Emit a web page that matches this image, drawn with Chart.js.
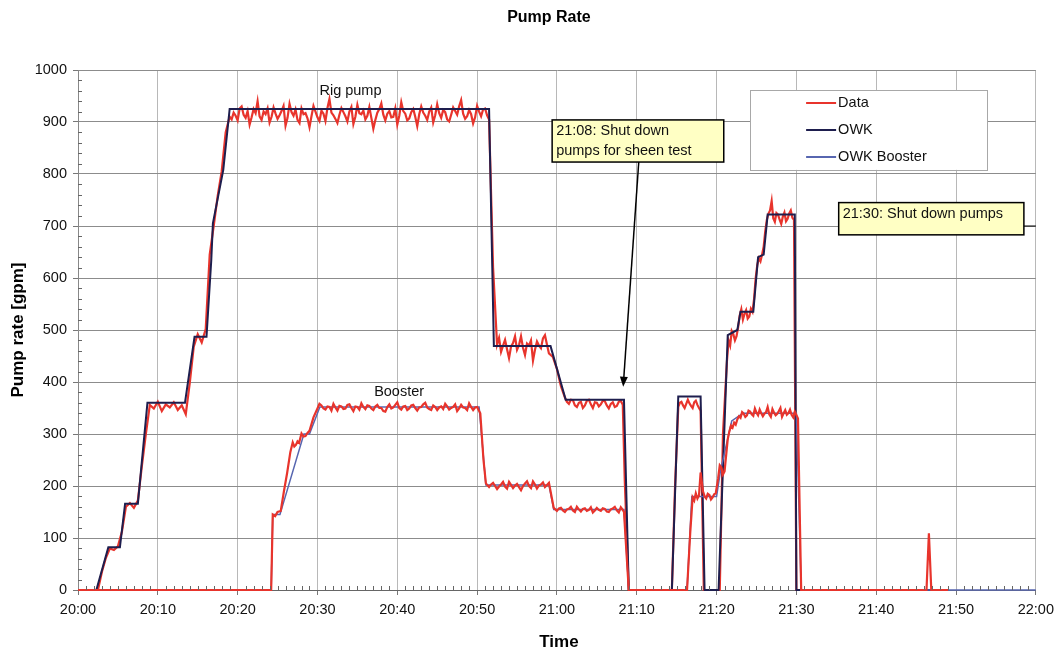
<!DOCTYPE html>
<html><head><meta charset="utf-8">
<script src="https://cdn.jsdelivr.net/npm/chart.js@4.4.0/dist/chart.umd.min.js"></script>
<style>html,body{margin:0;padding:0;background:#fff}#wrap{width:1060px;height:652px}</style>
</head><body><div id="wrap"><canvas id="c" width="1060" height="652"></canvas></div>
<script>
const chartTitle = 'Pump Rate';
const xAxisTitle = 'Time';
const yAxisTitle = 'Pump rate [gpm]';
// x values are minutes after 20:00
const timeTickLabels = ['20:00','20:10','20:20','20:30','20:40','20:50','21:00','21:10','21:20','21:30','21:40','21:50','22:00'];

// Measured rig pump rate (red "Data")
const rigPumpData = [[0,0],[2.5,0],[3,35],[3.5,62],[4,80],[4.5,77],[5,84],[5.5,112],[6,160],[6.5,167],[7,158],[7.5,172],[8,238],[8.5,300],[9,356],[9.5,349],[10,362],[10.5,344],[11,357],[11.5,351],[12,361],[12.5,346],[13,355],[13.5,338],[14,398],[14.5,468],[15,492],[15.5,476],[16,502],[16.5,645],[17,700],[17.5,758],[18,805],[18.5,880],[19,910],
[19.25,905],[19.5,918],[19.75,912],[20,903],[20.25,926],[20.5,930],[20.75,914],[21,908],[21.25,921],[21.5,895],[21.75,909],[22,925],[22.25,917],[22.5,940],[22.75,911],[23,904],[23.25,920],[23.5,915],[23.75,926],[24,899],[24.25,910],[24.5,928],[24.75,916],[25,906],[25.25,913],[25.5,921],[25.75,931],[26,893],[26.25,908],[26.5,935],[26.75,919],[27,912],[27.25,924],[27.5,904],[27.75,898],[28,926],[28.25,915],[28.5,917],[28.75,907],[29,890],[29.25,911],[29.5,931],[29.75,920],[30,909],[30.25,902],[30.5,922],[30.75,916],[31,902],[31.25,927],[31.5,944],[31.75,918],[32,913],[32.25,906],[32.5,898],[32.75,914],[33,927],[33.25,919],[33.5,911],[33.75,901],[34,920],[34.25,929],[34.5,896],[34.75,910],[35,933],[35.25,917],[35.5,915],[35.75,922],[36,905],[36.25,912],[36.5,929],[36.75,908],[37,887],[37.25,904],[37.5,918],[37.75,925],[38,936],[38.25,914],[38.5,903],[38.75,916],[39,921],[39.25,909],[39.5,910],[39.75,926],[40,895],[40.25,912],[40.5,938],[40.75,921],[41,916],[41.25,903],[41.5,907],[41.75,919],[42,925],[42.25,910],[42.5,892],[42.75,915],[43,930],[43.25,918],[43.5,912],[43.75,904],[44,920],[44.25,928],[44.5,899],[44.75,913],[45,934],[45.25,917],[45.5,908],[45.75,923],[46,919],[46.25,905],[46.5,901],[46.75,914],[47,928],[47.25,921],[47.5,914],[47.75,930],[48,942],[48.25,916],[48.5,906],[48.75,911],[49,923],[49.25,915],[49.5,897],[49.75,909],[50,931],[50.25,920],[50.5,911],[50.75,924],[51,926],[51.25,913],
[51.5,905],[52,620],[52.5,472],[52.75,485],[53,458],[53.25,470],[53.5,481],[53.75,463],[54,446],[54.25,468],[54.5,475],[54.75,488],[55,462],[55.25,471],[55.5,488],[55.75,466],[56,452],[56.25,474],[56.5,470],[56.75,480],[57,441],[57.25,462],[57.5,478],[57.75,470],[58,465],[58.25,484],[58.5,490],[58.75,472],[59,455],[59.5,448],[60,425],[60.5,392],[61,370],
[61.25,362],[61.5,358],[61.75,366],[62,365],[62.25,355],[62.5,352],[62.75,360],[63,362],[63.25,350],[63.5,355],[63.75,364],[64,366],[64.25,357],[64.5,350],[64.75,361],[65,360],[65.25,353],[65.5,357],[65.75,364],[66,363],[66.25,355],[66.5,349],[66.75,358],[67,361],[67.25,352],[67.5,354],[67.75,362],[68,364],[68.25,356],[68.5,210],[69,0],
[74.4,0],[74.8,200],[75.2,352],[75.4,360],[75.6,362],[75.8,355],[76,350],[76.2,358],[76.4,366],[76.6,359],[76.8,354],[77,350],[77.2,361],[77.4,364],[77.6,356],[77.8,350],[78,345],[78.4,0],
[80.4,0],[80.8,300],[81.3,440],[81.5,480],[81.7,470],[81.9,498],[82.1,492],[82.3,480],[82.5,488],[82.7,505],[82.9,528],[83.1,540],[83.3,520],[83.5,531],[83.7,538],[83.9,522],[84.1,526],[84.3,541],[84.5,535],[84.7,560],[84.9,600],[85.1,625],[85.3,638],[85.5,632],[85.7,645],[85.9,660],[86.1,690],[86.3,712],[86.5,724],[86.7,730],[86.9,748],[87.1,715],[87.3,708],[87.5,725],[87.7,722],[87.9,712],[88.1,704],[88.3,718],[88.5,726],[88.7,709],[88.9,714],[89.1,724],[89.3,730],[89.5,716],[89.7,712],[90,0],[109,0]];

// Measured booster pump rate (red, not in legend)
const boosterPumpData = [[0,0],[24.2,0],[24.4,145],[24.7,142],[25,150],[25.4,152],[25.8,190],[26.2,225],[26.6,265],[26.9,284],[27.1,276],[27.3,279],[27.5,286],[27.7,283],[28,301],[28.25,295],[28.5,296],[28.75,302],[29,306],[29.5,332],[30,349],[30.25,358],
[30.5,355],[30.75,349],[31,347],[31.25,353],[31.5,352],[31.75,345],[32,358],[32.25,351],[32.5,345],[32.75,354],[33,353],[33.25,348],[33.5,349],[33.75,356],[34,357],[34.25,350],[34.5,344],[34.75,353],[35,352],[35.25,347],[35.5,359],[35.75,352],[36,348],[36.25,355],[36.5,354],[36.75,349],[37,346],[37.25,353],[37.5,356],[37.75,350],[38,350],[38.25,344],[38.5,343],[38.75,352],[39,357],[39.25,349],[39.5,351],[39.75,356],[40,361],[40.25,350],[40.5,347],[40.75,353],[41,354],[41.25,346],[41.5,349],[41.75,355],[42,356],[42.25,350],[42.5,345],[42.75,351],[43,352],[43.25,357],[43.5,360],[43.75,351],[44,348],[44.25,346],[44.5,355],[44.75,352],[45,346],[45.25,351],[45.5,353],[45.75,348],[46,358],[46.25,353],[46.5,347],[46.75,350],[47,352],[47.25,357],[47.5,344],[47.75,349],[48,356],[48.25,351],[48.5,350],[48.75,346],[49,359],[49.25,352],[49.5,346],[49.75,351],[50,352],
[50.4,340],[50.8,250],[51.1,205],[51.5,198],[51.75,203],[52,206],[52.25,200],[52.5,194],[52.75,199],[53,203],[53.25,208],[53.5,199],[53.75,195],[54,208],[54.25,202],[54.5,196],[54.75,201],[55,204],[55.25,198],[55.5,192],[55.75,200],[56,205],[56.25,209],[56.5,200],[56.75,196],[57,209],[57.25,203],[57.5,195],[57.75,201],[58,203],[58.25,207],[58.5,198],[58.75,202],[59,206],[59.6,158],
[60,152],[60.25,157],[60.5,158],[60.75,153],[61,150],[61.25,155],[61.5,156],[61.75,160],[62,153],[62.25,150],[62.5,160],[62.75,155],[63,151],[63.25,156],[63.5,157],[63.75,152],[64,154],[64.25,159],[64.5,149],[64.75,153],[65,158],[65.25,154],[65.5,152],[65.75,157],[66,156],[66.25,151],[66.5,150],[66.75,155],[67,157],[67.25,160],[67.5,153],[67.75,149],[68,159],[68.25,154],[68.4,150],[69,0],
[76.3,0],[76.7,110],[77,178],[77.2,172],[77.4,186],[77.6,176],[77.8,182],[78,226],[78.3,190],[78.5,180],[78.7,176],[78.9,185],[79.1,183],[79.3,174],[79.5,178],[79.7,184],[79.9,186],[80.2,215],[80.4,240],[80.6,236],[80.8,222],[81,228],[81.4,290],[81.6,305],[81.8,316],[82,312],[82.2,322],[82.4,318],[82.6,328],[82.8,334],[83,331],[83.2,342],[83.4,339],[83.6,333],[83.8,336],[84,345],[84.2,343],[84.4,338],[84.6,335],[84.8,349],[85,341],[85.2,336],[85.4,347],[85.6,340],[85.8,334],[86,339],[86.2,342],[86.4,352],[86.6,338],[86.8,333],[87,348],[87.2,341],[87.4,336],[87.6,339],[87.8,344],[88,350],[88.2,333],[88.4,340],[88.6,346],[88.8,337],[89,340],[89.2,347],[89.4,337],[89.6,332],[89.8,343],[90.2,330],[90.6,0],
[106.3,0],[106.6,109],[106.9,0],[109,0]];

// Model lines
const owkRig = [[0,0],[2.3,0],[3.8,82],[5.25,82],[5.9,166],[7.5,166],[8.7,360],[13.4,360],[14.6,487],[16.1,487],[16.7,635],[16.9,705],[18.2,808],[19.0,925],[51.5,925],[52.1,469],[59.2,469],[61.1,366],[68.4,366],[69.0,0],[74.4,0],[75.2,372],[78.0,372],[78.5,0],[80.25,0],[81.4,490],[82.6,500],[83.0,535],[84.6,535],[85.2,640],[85.9,645],[86.4,722],[89.8,722],[90.0,0],[109,0]];
const owkBooster = [[0,0],[24.2,0],[24.4,145],[25.3,145],[28.3,300],[29.0,300],[30.3,352],[50.25,352],[51.1,202],[59.0,202],[59.6,155],[68.4,155],[69.0,0],[76.3,0],[76.9,180],[80.0,180],[80.5,230],[81.9,325],[83.3,340],[90.0,340],[90.6,0],[120,0]];

const seriesNames = ['Data','OWK','OWK Booster'];
const seriesColors = ['#e8342c','#1e1e4e','#5766b0'];

// annotations (positions in data units: minutes, gpm)
const seriesNotes = [{text:'Rig pump', t:30.25, v:960},{text:'Booster', t:37.1, v:381}];
const callouts = [
  {lines:['21:08: Shut down','pumps for sheen test'], t0:59.4, t1:80.9, v0:904, v1:823, arrow:[[70.25,823],[68.3,391]]},
  {lines:['21:30: Shut down pumps'], t0:95.3, t1:118.5, v0:745, v1:683, leader:[[118.5,700],[120,700]]}
];
const legendBox = {t0:84.2, t1:113.9, v0:961.5, v1:808};

const FONT = "'Liberation Sans', Arial, Helvetica, sans-serif";
const toXY = arr => arr.map(p => ({x:p[0], y:p[1]}));

const overlay = {
  id:'overlay',
  afterDraw(chart){
    const ctx = chart.ctx, xs = chart.scales.x, ys = chart.scales.y, a = chart.chartArea;
    const X = t => xs.getPixelForValue(t), Y = v => ys.getPixelForValue(v);
    ctx.save();
    // minor ticks
    ctx.strokeStyle = '#666'; ctx.lineWidth = 1;
    for (let v = 20; v < 1000; v += 20) {
      if (v % 100 === 0) continue;
      const y = Math.round(Y(v)) + 0.5;
      ctx.beginPath(); ctx.moveTo(a.left, y); ctx.lineTo(a.left + 4, y); ctx.stroke();
    }
    for (let t = 1; t < 120; t += 1) {
      if (t % 10 === 0) continue;
      const x = Math.round(X(t)) + 0.5;
      ctx.beginPath(); ctx.moveTo(x, a.bottom); ctx.lineTo(x, a.bottom - 4); ctx.stroke();
    }
    // series notes
    ctx.fillStyle = '#111'; ctx.font = '14.5px ' + FONT; ctx.textBaseline = 'middle'; ctx.textAlign = 'left';
    seriesNotes.forEach(n => ctx.fillText(n.text, X(n.t), Y(n.v)));
    // callouts
    callouts.forEach(c => {
      const l = X(c.t0), r = X(c.t1), tp = Y(c.v0), bt = Y(c.v1);
      if (c.arrow) {
        const [p0, p1] = c.arrow;
        const x0 = X(p0[0]), y0 = Y(p0[1]), x1 = X(p1[0]), y1 = Y(p1[1]);
        const ang = Math.atan2(y1 - y0, x1 - x0);
        ctx.strokeStyle = '#000'; ctx.lineWidth = 1.5;
        ctx.beginPath(); ctx.moveTo(x0, y0); ctx.lineTo(x1 - 8*Math.cos(ang), y1 - 8*Math.sin(ang)); ctx.stroke();
        ctx.fillStyle = '#000';
        ctx.beginPath(); ctx.moveTo(x1, y1);
        ctx.lineTo(x1 - 10*Math.cos(ang) + 4*Math.sin(ang), y1 - 10*Math.sin(ang) - 4*Math.cos(ang));
        ctx.lineTo(x1 - 10*Math.cos(ang) - 4*Math.sin(ang), y1 - 10*Math.sin(ang) + 4*Math.cos(ang));
        ctx.closePath(); ctx.fill();
      }
      if (c.leader) {
        const [p0, p1] = c.leader;
        ctx.strokeStyle = '#000'; ctx.lineWidth = 1;
        ctx.beginPath(); ctx.moveTo(X(p0[0]), Y(p0[1])); ctx.lineTo(X(p1[0]), Y(p1[1])); ctx.stroke();
      }
      ctx.fillStyle = '#ffffc4'; ctx.fillRect(l, tp, r - l, bt - tp);
      ctx.strokeStyle = '#000'; ctx.lineWidth = 1.5; ctx.strokeRect(l, tp, r - l, bt - tp);
      ctx.fillStyle = '#111'; ctx.font = '14.5px ' + FONT; ctx.textBaseline = 'middle';
      c.lines.forEach((s, i) => ctx.fillText(s, l + 4, tp + 11 + i * 20));
    });
    // legend
    const ll = X(legendBox.t0), lr = X(legendBox.t1), lt = Y(legendBox.v0), lb = Y(legendBox.v1);
    ctx.fillStyle = '#fff'; ctx.fillRect(ll, lt, lr - ll, lb - lt);
    ctx.strokeStyle = '#a8a8a8'; ctx.lineWidth = 1; ctx.strokeRect(Math.round(ll)+0.5, Math.round(lt)+0.5, Math.round(lr-ll), Math.round(lb-lt));
    const rowY = [13, 40, 67];
    seriesNames.forEach((name, i) => {
      const y = lt + rowY[i];
      ctx.strokeStyle = seriesColors[i]; ctx.lineWidth = 2;
      ctx.beginPath(); ctx.moveTo(ll + 56, y); ctx.lineTo(ll + 86, y); ctx.stroke();
      ctx.fillStyle = '#111'; ctx.font = '14.5px ' + FONT; ctx.textBaseline = 'middle'; ctx.textAlign = 'left';
      ctx.fillText(name, ll + 88, y);
    });
    // titles
    const cx = (a.left + a.right) / 2, cy = (a.top + a.bottom) / 2;
    ctx.fillStyle = '#000'; ctx.textAlign = 'center'; ctx.textBaseline = 'middle';
    ctx.font = 'bold 16px ' + FONT; ctx.fillText(chartTitle, cx - 8, 18);
    ctx.font = 'bold 17px ' + FONT; ctx.fillText(xAxisTitle, cx + 2, 642);
    ctx.save(); ctx.translate(18, cy); ctx.rotate(-Math.PI/2); ctx.fillText(yAxisTitle, 0, 0); ctx.restore();
    ctx.restore();
  }
};

const ds = (label, data, color, width, order) => ({label, data: toXY(data), borderColor: color, backgroundColor: color, borderWidth: width, pointRadius: 0, tension: 0, fill: false, order, clip: {left: 0, top: 0, right: 0, bottom: 3}});

new Chart(document.getElementById('c'), {
  type: 'line',
  data: { datasets: [
    ds('Data', rigPumpData, seriesColors[0], 2.2, 4),
    ds('OWK', owkRig, seriesColors[1], 2, 3),
    ds('OWK Booster', owkBooster, seriesColors[2], 1.5, 2),
    ds('Booster data', boosterPumpData, seriesColors[0], 2.2, 1)
  ]},
  options: {
    responsive: false, animation: false,
    layout: { padding: { top: 70, right: 23, left: 0, bottom: 0 } },
    plugins: { legend: { display: false }, tooltip: { enabled: false }, title: { display: false } },
    scales: {
      x: {
        type: 'linear', min: 0, max: 120,
        afterFit: s => { s.height = 62; },
        ticks: { stepSize: 10, autoSkip: false, maxRotation: 0, color: '#111', padding: 6, font: { size: 14.5, family: FONT },
          callback: v => timeTickLabels[Math.round(v / 10)] },
        grid: { color: '#b8b8b8', lineWidth: 1, tickLength: 5, tickColor: '#777' },
        border: { color: '#666', width: 1 }
      },
      y: {
        min: 0, max: 1000,
        afterFit: s => { s.width = 78; },
        ticks: { stepSize: 100, color: '#111', padding: 6, font: { size: 14.5, family: FONT }, callback: v => String(v) },
        grid: { color: '#8c8c8c', lineWidth: 1, tickLength: 5, tickColor: '#777' },
        border: { color: '#888', width: 1 }
      }
    }
  },
  plugins: [overlay]
});
</script></body></html>
